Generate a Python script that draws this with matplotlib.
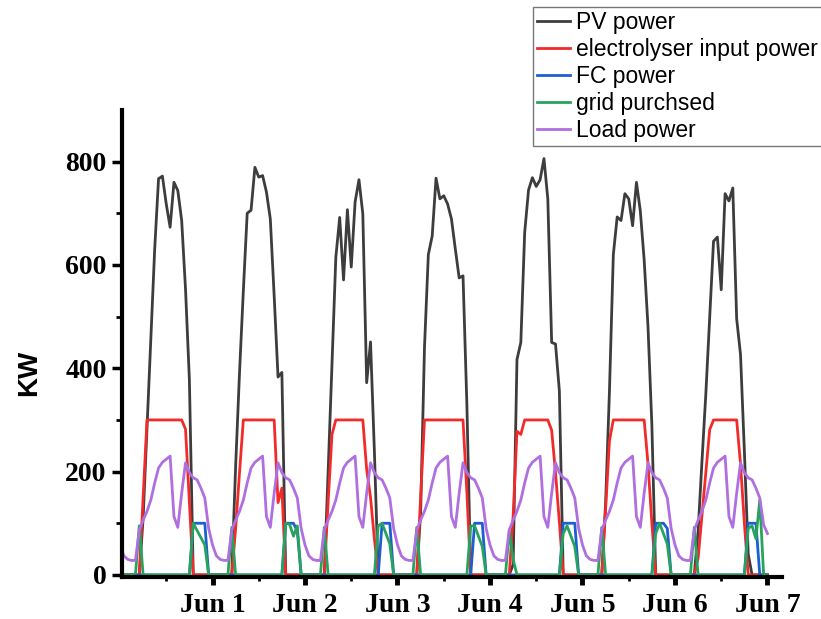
import numpy as np
import pandas as pd
import matplotlib
matplotlib.use("Agg")
import matplotlib.pyplot as plt
import matplotlib.dates as mdates

# hourly values (00:00 .. 23:00) for each day, May 31 .. Jun 6, in kW
pv_power = [
    [0, 0, 0, 0, 0, 0, 110, 284, 458, 631, 767, 772, 718, 673, 760, 744, 686, 553, 378, 0, 0, 0, 0, 0],
    [0, 0, 0, 0, 0, 0, 210, 390, 550, 700, 706, 789, 770, 773, 741, 689, 540, 383, 392, 0, 0, 0, 0, 0],
    [0, 0, 0, 0, 0, 0, 200, 410, 615, 692, 571, 707, 596, 722, 765, 699, 372, 451, 240, 0, 0, 0, 0, 0],
    [0, 0, 0, 0, 0, 0, 120, 440, 620, 656, 768, 728, 734, 718, 689, 631, 575, 579, 330, 0, 0, 0, 0, 0],
    [0, 0, 0, 0, 0, 0, 20, 417, 450, 663, 745, 769, 752, 765, 806, 728, 450, 447, 356, 0, 0, 0, 0, 0],
    [0, 0, 0, 0, 0, 0, 140, 357, 620, 693, 686, 738, 728, 676, 760, 705, 610, 480, 290, 0, 0, 0, 0, 0],
    [0, 0, 0, 0, 0, 0, 85, 220, 350, 500, 646, 654, 552, 738, 724, 749, 496, 427, 240, 40, 0, 0, 0, 0],
]
electrolyser = [
    [0, 0, 0, 0, 0, 0, 150, 300, 300, 300, 300, 300, 300, 300, 300, 300, 300, 282, 140, 0, 0, 0, 0, 0],
    [0, 0, 0, 0, 0, 0, 90, 197, 300, 300, 300, 300, 300, 300, 300, 300, 300, 140, 168, 0, 0, 0, 0, 0],
    [0, 0, 0, 0, 0, 0, 141, 272, 300, 300, 300, 300, 300, 300, 300, 300, 204, 150, 70, 0, 0, 0, 0, 0],
    [0, 0, 0, 0, 0, 0, 150, 300, 300, 300, 300, 300, 300, 300, 300, 300, 300, 300, 160, 0, 0, 0, 0, 0],
    [0, 0, 0, 0, 0, 0, 114, 278, 272, 300, 300, 300, 300, 300, 300, 300, 280, 198, 102, 0, 0, 0, 0, 0],
    [0, 0, 0, 0, 0, 0, 127, 260, 300, 300, 300, 300, 300, 300, 300, 300, 300, 215, 100, 0, 0, 0, 0, 0],
    [0, 0, 0, 0, 0, 0, 32, 114, 198, 281, 300, 300, 300, 300, 300, 300, 300, 215, 100, 0, 0, 0, 0, 0],
]
fc_power = [
    [0, 0, 0, 0, 0, 0, 0, 0, 0, 0, 0, 0, 0, 0, 0, 0, 0, 0, 0, 100, 100, 100, 100, 0],
    [0, 0, 0, 0, 0, 0, 0, 0, 0, 0, 0, 0, 0, 0, 0, 0, 0, 0, 0, 100, 100, 100, 85, 0],
    [0, 0, 0, 0, 0, 0, 0, 0, 0, 0, 0, 0, 0, 0, 0, 0, 0, 0, 0, 0, 100, 100, 100, 0],
    [0, 0, 0, 0, 0, 0, 0, 0, 0, 0, 0, 0, 0, 0, 0, 0, 0, 0, 0, 0, 100, 100, 100, 0],
    [0, 0, 0, 0, 0, 0, 0, 0, 0, 0, 0, 0, 0, 0, 0, 0, 0, 0, 0, 100, 100, 100, 100, 0],
    [0, 0, 0, 0, 0, 0, 0, 0, 0, 0, 0, 0, 0, 0, 0, 0, 0, 0, 0, 100, 100, 100, 90, 0],
    [0, 0, 0, 0, 0, 0, 0, 0, 0, 0, 0, 0, 0, 0, 0, 0, 0, 0, 0, 100, 100, 100, 0, 0],
]
grid_purchased = [
    [0, 0, 0, 0, 0, 95, 0, 0, 0, 0, 0, 0, 0, 0, 0, 0, 0, 0, 0, 100, 86, 72, 58, 0],
    [0, 0, 0, 0, 0, 92, 0, 0, 0, 0, 0, 0, 0, 0, 0, 0, 0, 0, 0, 100, 98, 75, 95, 0],
    [0, 0, 0, 0, 0, 92, 0, 0, 0, 0, 0, 0, 0, 0, 0, 0, 0, 0, 0, 95, 100, 80, 60, 0],
    [0, 0, 0, 0, 0, 92, 0, 0, 0, 0, 0, 0, 0, 0, 0, 0, 0, 0, 0, 95, 95, 75, 55, 0],
    [0, 0, 0, 0, 0, 85, 30, 0, 0, 0, 0, 0, 0, 0, 0, 0, 0, 0, 0, 80, 95, 75, 55, 0],
    [0, 0, 0, 0, 0, 92, 0, 0, 0, 0, 0, 0, 0, 0, 0, 0, 0, 0, 0, 80, 100, 80, 60, 0],
    [0, 0, 0, 0, 0, 92, 0, 0, 0, 0, 0, 0, 0, 0, 0, 0, 0, 0, 0, 90, 95, 70, 145, 0],
]
load_power = [
    [58, 37, 30, 28, 28, 87, 106, 123, 145, 178, 207, 218, 224, 230, 113, 92, 158, 217, 198, 188, 184, 168, 149, 90],
    [58, 37, 30, 28, 28, 87, 106, 123, 145, 178, 207, 218, 224, 230, 113, 92, 158, 217, 198, 188, 184, 168, 149, 90],
    [58, 37, 30, 28, 28, 87, 106, 123, 145, 178, 207, 218, 224, 230, 113, 92, 158, 217, 198, 188, 184, 168, 149, 90],
    [58, 37, 30, 28, 28, 87, 106, 123, 145, 178, 207, 218, 224, 230, 113, 92, 158, 217, 198, 188, 184, 168, 149, 90],
    [58, 37, 30, 28, 28, 87, 106, 123, 145, 178, 207, 218, 224, 230, 113, 92, 158, 217, 198, 188, 184, 168, 149, 90],
    [58, 37, 30, 28, 28, 87, 106, 123, 145, 178, 207, 218, 224, 230, 113, 92, 158, 217, 198, 188, 184, 168, 149, 90],
    [58, 37, 30, 28, 28, 87, 106, 123, 145, 178, 207, 218, 224, 230, 113, 92, 158, 217, 198, 188, 184, 168, 149, 97],
]
# last sample at Jun 7 00:00
last_values = {"pv": 0, "el": 0, "fc": 0, "grid": 0, "load": 80}

times = pd.date_range("2023-05-31 00:00", periods=7 * 24 + 1, freq="h")


def series(days, last):
    return np.array(sum(days, []) + [last], dtype=float)


pv = series(pv_power, last_values["pv"])
el = series(electrolyser, last_values["el"])
fc = series(fc_power, last_values["fc"])
grid = series(grid_purchased, last_values["grid"])
load = series(load_power, last_values["load"])

fig = plt.figure(figsize=(8.21, 6.19), dpi=100)
ax = fig.add_axes([0.1486, 0.0679, 0.8039, 0.7544])

lw = 2.0
ax.plot(times, pv, color="#3d3d3d", lw=lw, label="PV power")
ax.plot(times, el, color="#f22a2a", lw=lw, label="electrolyser input power")
ax.plot(times, fc, color="#1c5fd0", lw=lw, label="FC power")
ax.plot(times, grid, color="#27a35e", lw=lw, label="grid purchsed")
ax.plot(times, load, color="#b06fe0", lw=lw, label="Load power")

ax.set_xlim(pd.Timestamp("2023-05-31 00:31"), pd.Timestamp("2023-06-07 03:46"))
ax.set_ylim(-4, 900)

ax.xaxis.set_major_locator(mdates.DayLocator())
ax.xaxis.set_major_formatter(mdates.DateFormatter("%b %-d"))
ax.xaxis.set_minor_locator(mdates.HourLocator(byhour=12))
ax.set_yticks([0, 200, 400, 600, 800])
ax.set_yticks([100, 300, 500, 700], minor=True)

for side in ("top", "right"):
    ax.spines[side].set_visible(False)
for side in ("left", "bottom"):
    ax.spines[side].set_linewidth(3)

ax.tick_params(axis="x", which="major", length=6, width=3.5, pad=5.5)
ax.tick_params(axis="x", which="minor", length=3, width=2)
ax.tick_params(axis="y", which="major", length=7, width=2.5, pad=4)
ax.tick_params(axis="y", which="minor", length=4, width=2)
for lab in ax.get_xticklabels() + ax.get_yticklabels():
    lab.set_fontfamily("Liberation Serif")
    lab.set_fontweight("bold")
    lab.set_fontsize(20)

fig.text(0.036, 0.397, "KW", rotation=90, ha="center", va="center",
         fontsize=20, fontweight="bold", family="Liberation Sans")

leg = ax.legend(loc="upper left", bbox_to_anchor=(533 / 821, 1 - 7 / 619),
                bbox_transform=fig.transFigure, prop={"family": "Liberation Sans", "size": 16.5},
                frameon=True, fancybox=False, borderpad=0.18, labelspacing=0.17,
                handlelength=1.45, handletextpad=0.25, borderaxespad=0)
leg.get_frame().set_edgecolor("#555555")
leg.get_frame().set_linewidth(1.0)

fig.savefig("out.png", dpi=100)
